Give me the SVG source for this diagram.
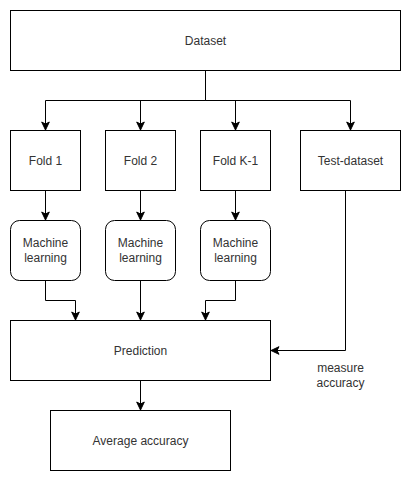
<svg xmlns="http://www.w3.org/2000/svg" width="411" height="481" viewBox="0 0 411 481">
<style>
.box{fill:#fff;stroke:#000;stroke-width:1}
.t{font-family:"Liberation Sans",Arial,sans-serif;font-size:12px;fill:#333;text-anchor:middle}
.c{fill:none;stroke:#000;stroke-width:1}
</style>
<defs>
<marker id="ah" markerUnits="userSpaceOnUse" markerWidth="10" markerHeight="10" viewBox="0 0 10 10" refX="9" refY="5" orient="auto">
<path d="M1,1.2 L9,5 L1,8.8 L3,5 Z" fill="#000" stroke="#000" stroke-width="1"/>
</marker>
</defs>
<rect width="411" height="481" fill="#fff"/>
<g id="connectors">
<path class="c" d="M205.5,70.5 V100.5 H45.5 V130" marker-end="url(#ah)"/>
<path class="c" d="M205.5,100.5 H140.5 V130" marker-end="url(#ah)"/>
<path class="c" d="M205.5,100.5 H235.5 V130" marker-end="url(#ah)"/>
<path class="c" d="M205.5,100.5 H350.5 V130" marker-end="url(#ah)"/>
<path class="c" d="M45.5,190.5 V220" marker-end="url(#ah)"/>
<path class="c" d="M140.5,190.5 V220" marker-end="url(#ah)"/>
<path class="c" d="M235.5,190.5 V220" marker-end="url(#ah)"/>
<path class="c" d="M45.5,280.5 V300.5 H75.5 V320" marker-end="url(#ah)"/>
<path class="c" d="M140.5,280.5 V320" marker-end="url(#ah)"/>
<path class="c" d="M235.5,280.5 V300.5 H205.5 V320" marker-end="url(#ah)"/>
<path class="c" d="M345.5,190.5 V350.5 H271" marker-end="url(#ah)"/>
<path class="c" d="M140.5,380.5 V410" marker-end="url(#ah)"/>
<text class="t" x="340.5" y="372">measure</text>
<text class="t" x="340.5" y="387">accuracy</text>
</g>
<g id="dataset"><rect class="box" x="10.5" y="10.5" width="390" height="60"/><text class="t" x="205.5" y="44.5">Dataset</text></g>
<g id="fold1"><rect class="box" x="10.5" y="130.5" width="70" height="60"/><text class="t" x="45.5" y="164.5">Fold 1</text></g>
<g id="fold2"><rect class="box" x="105.5" y="130.5" width="70" height="60"/><text class="t" x="140.5" y="164.5">Fold 2</text></g>
<g id="foldk1"><rect class="box" x="200.5" y="130.5" width="70" height="60"/><text class="t" x="235.5" y="164.5">Fold K-1</text></g>
<g id="testdataset"><rect class="box" x="300.5" y="130.5" width="100" height="60"/><text class="t" x="350.5" y="164.5">Test-dataset</text></g>
<g id="ml1"><rect class="box" x="10.5" y="220.5" width="70" height="60" rx="9" ry="9"/><text class="t" x="45.5" y="247">Machine</text><text class="t" x="45.5" y="262">learning</text></g>
<g id="ml2"><rect class="box" x="105.5" y="220.5" width="70" height="60" rx="9" ry="9"/><text class="t" x="140.5" y="247">Machine</text><text class="t" x="140.5" y="262">learning</text></g>
<g id="ml3"><rect class="box" x="200.5" y="220.5" width="70" height="60" rx="9" ry="9"/><text class="t" x="235.5" y="247">Machine</text><text class="t" x="235.5" y="262">learning</text></g>
<g id="prediction"><rect class="box" x="10.5" y="320.5" width="260" height="60"/><text class="t" x="140.5" y="354.5">Prediction</text></g>
<g id="average"><rect class="box" x="50.5" y="410.5" width="180" height="60"/><text class="t" x="140.5" y="444.5">Average accuracy</text></g>
</svg>
